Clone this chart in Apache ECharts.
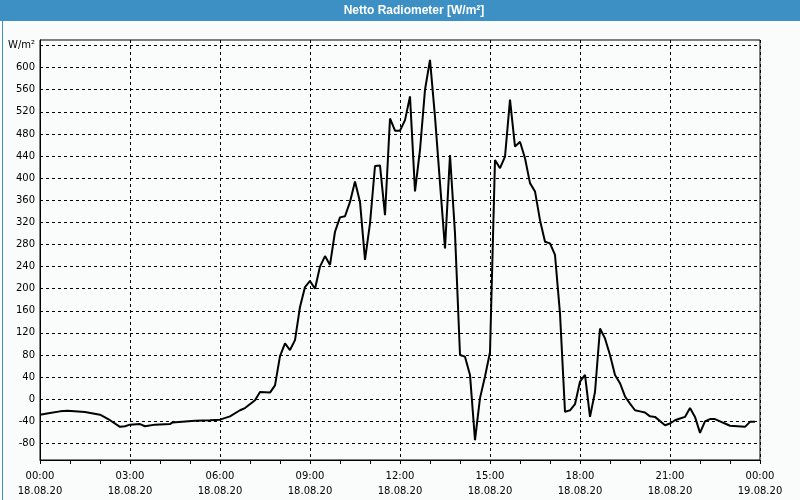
<!DOCTYPE html>
<html>
<head>
<meta charset="utf-8">
<script src="https://cdn.jsdelivr.net/npm/echarts@6/dist/echarts.min.js"></script>
<style>
html,body{margin:0;padding:0;background:#fafcfb;}
#chart{width:800px;height:500px;}
</style>
</head>
<body>
<div id="chart"></div>
<script>
// Measurement times (HH:MM, 18.08.20)
const times = ["00:00","00:20","00:40","00:55","01:30","02:00","02:20","02:40","02:50","03:00",
"03:20","03:30","03:50","04:20","04:25","05:10","05:40","06:00","06:20","06:40",
"06:50","07:10","07:20","07:40","07:50","08:00","08:10","08:20","08:30","08:40",
"08:50","09:00","09:10","09:20","09:30","09:40","09:50","10:00","10:10","10:20",
"10:30","10:40","10:50","11:00","11:10","11:20","11:30","11:40","11:50","12:00",
"12:10","12:20","12:30","12:40","12:50","13:00","13:10","13:20","13:30","13:40",
"13:50","14:00","14:10","14:20","14:30","14:40","14:50","15:00","15:10","15:20",
"15:30","15:40","15:50","16:00","16:10","16:20","16:30","16:40","16:50","17:00",
"17:10","17:20","17:30","17:40","17:50","18:00","18:10","18:20","18:30","18:40",
"18:50","19:00","19:10","19:20","19:30","19:40","19:50","20:00","20:10","20:20",
"20:30","20:50","21:00","21:10","21:20","21:30","21:40","21:50","22:00","22:10",
"22:20","22:30","22:40","22:50","23:00","23:30","23:40","23:50"];
// Netto radiometer values in W/m²
const values = [-28,-25,-22,-21,-23,-28,-38,-50,-49,-46,
-45,-49,-46,-45,-42,-39,-38,-37,-31,-20,
-16,-2,13,12,25,78,101,89,107,167,
203,214,200,240,259,243,303,329,331,357,
394,357,252,318,422,423,333,508,486,486,
505,548,376,451,560,614,511,391,273,442,
300,80,77,44,-74,2,41,85,433,418,
439,542,457,466,436,391,376,324,285,282,
261,155,-23,-20,-9,32,44,-32,13,128,
110,80,44,29,5,-8,-20,-22,-24,-31,
-32,-47,-44,-38,-35,-32,-16,-32,-61,-40,
-36,-36,-40,-44,-48,-50,-41,-41];
// Axis tick labels
const xTickHours = [0,3,6,9,12,15,18,21,24];
const xTickLabels = ["00:00\n18.08.20","03:00\n18.08.20","06:00\n18.08.20","09:00\n18.08.20","12:00\n18.08.20","15:00\n18.08.20","18:00\n18.08.20","21:00\n18.08.20","00:00\n19.08.20"];
const yTickValues = [-80,-40,0,40,80,120,160,200,240,280,320,360,400,440,480,520,560,600,640];
const yUnitLabel = "W/m²";
const chartTitle = "Netto Radiometer [W/m²]";

function toHours(t){ const p = t.split(":"); return Number(p[0]) + Number(p[1])/60; }
const seriesData = times.map((t,i)=>[toHours(t), values[i]]);

const FONT = "DejaVu Sans";
const chart = echarts.init(document.getElementById('chart'), null, {renderer:'canvas'});
chart.setOption({
  animation:false,
  backgroundColor:'#fafcfb',
  graphic:[
    {type:'rect', left:0, top:0, shape:{x:0,y:0,width:800,height:21}, style:{fill:'#3d90c4'}, z:10},
    {type:'rect', left:0, top:0, shape:{x:0.5,y:0.5,width:799,height:499}, style:{fill:null, stroke:'#3d90c4', lineWidth:1}, z:10},
    {type:'text', x:414, y:11, style:{text:chartTitle, fill:'#ffffff', font:'bold 12px "Liberation Sans"', align:'center', verticalAlign:'middle'}, z:11}
  ],
  grid:{left:40, right:40, top:40, bottom:40, show:true, borderColor:'#000', borderWidth:1, backgroundColor:'transparent'},
  xAxis:[
    {type:'value', min:0, max:24, interval:3,
     axisLine:{show:true, onZero:false, lineStyle:{color:'#000', width:1}},
     axisTick:{show:false},
     splitLine:{show:true, lineStyle:{color:'#000', type:[3,3], width:1}},
     axisLabel:{show:true, margin:9, color:'#000', fontFamily:FONT, fontSize:10, lineHeight:15,
       formatter:function(v){ const i = xTickHours.indexOf(v); return i>=0 ? xTickLabels[i] : ''; }}
    },
    {type:'value', min:0, max:24, interval:1, position:'bottom', offset:0,
     axisLine:{show:false, onZero:false},
     axisTick:{show:true, length:4, lineStyle:{color:'#000', width:1}},
     splitLine:{show:false},
     axisLabel:{show:false}
    }
  ],
  yAxis:{type:'value', min:-110, max:650,
    axisLine:{show:true, onZero:false, lineStyle:{color:'#000', width:1}},
    axisTick:{show:false, customValues:yTickValues},
    splitLine:{show:true, lineStyle:{color:'#000', type:[3,3], width:1}},
    axisLabel:{show:true, customValues:yTickValues, margin:5, color:'#000', fontFamily:FONT, fontSize:10,
      formatter:function(v){ return v===640 ? yUnitLabel : String(v); }}
  },
  series:[{
    type:'line', xAxisIndex:0, yAxisIndex:0, data:seriesData, showSymbol:false, symbol:'none',
    lineStyle:{color:'#000', width:2}, z:5
  }]
});
</script>
</body>
</html>
